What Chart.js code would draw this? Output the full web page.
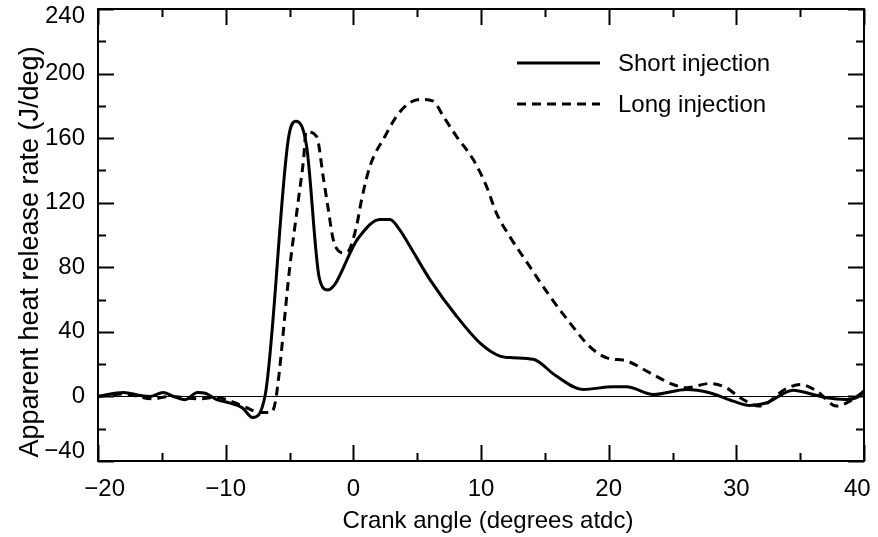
<!DOCTYPE html>
<html>
<head>
<meta charset="utf-8">
<script src="https://cdn.jsdelivr.net/npm/chart.js@4/dist/chart.umd.min.js"></script>
<style>
  html, body { margin: 0; padding: 0; background: #fff; }
  #wrap { width: 878px; height: 537px; position: relative; }
</style>
</head>
<body>
<div id="wrap"><canvas id="chart"></canvas></div>
<script>
// crank angle (deg atdc) / apparent heat release rate (J/deg)
const shortAngle = [-20, -18.0, -16.7, -15.9, -14.9, -14.1, -13.2, -12.2, -11.6, -10.7, -9.7, -8.7, -7.9,
  -6.9, -5.1, -4.5, -3.66, -2.67, -2.01, 0.38, 2.08, 2.87, 3.65, 4.43, 6.0, 8.09, 9.91, 11.48, 12.5,
  14.1, 15.9, 18.0, 20.35, 21.4, 23.5, 26.1, 27.9, 29.75, 31.06, 32.4, 34.45, 36.0, 37.06, 38.6, 39.7, 40];
const shortRate = [0, 2.5, 0.6, 0, 2.5, 0, -2, 2.5, 2, -2, -4, -7, -13,
  1, 159, 170.5, 155, 73.5, 66, 98, 109.6, 109.6, 103, 93, 72.4, 49.7, 33.2, 25, 24,
  23, 12.6, 4.3, 6, 6, 1.2, 4.3, 2.3, -2.9, -5.6, -3.9, 3.9, 1.2, -0.8, -1.9, 0.6, 3.3];

const longAngle = [-20, -18.0, -15.7, -14.4, -12.0, -10.8, -9.4, -8.36, -7.3, -6.5, -6.1, -4.97, -4.3,
  -3.9, -3.7, -2.87, -2.36, -1.96, -1.57, -0.79, -0.4, 0.25, 0.65, 1.3, 2.47, 3.39, 4.43, 5.35, 6.26,
  7.04, 8.09, 9.39, 10.44, 11.2, 12.26, 13.8, 15.4, 16.96, 18.5, 19.8, 21.4, 23.2, 25.05, 26.1,
  27.9, 29.2, 30.3, 31.8, 33.9, 35.0, 36.3, 37.85, 38.9, 40];
const longRate = [0, 1.5, -1.5, 0, -1.5, -0.5, -3.5, -7, -10, -10, -3, 80.7, 122,
  146.7, 164, 161, 136, 115.8, 97, 89, 90, 105.5, 122, 142.6, 161, 173.6, 182, 184, 183,
  173.6, 161, 146.7, 130, 113.7, 99, 80.7, 62, 45.6, 31, 24, 22, 14.7, 7.4, 5.4,
  8, 5.4, -0.8, -6, 4.8, 7.4, 3.3, -6, -2.9, 3.3];

const seriesLabels = ['Short injection', 'Long injection'];
const xTitle = 'Crank angle (degrees atdc)';
const yTitle = 'Apparent heat release rate (J/deg)';

const X_MIN = -20, X_MAX = 40, X_STEP = 10;
const Y_MIN = -40, Y_MAX = 240, Y_STEP = 40;

const FONT = "'Liberation Sans', Arial, Helvetica, sans-serif";

function toPoints(xs, ys) {
  return xs.map((x, i) => ({ x: x, y: ys[i] }));
}

function minus(v) {
  return v < 0 ? '\u2212' + Math.abs(v) : String(v);
}

// frame, inward ticks on all four sides, axis titles and the legend
const framePlugin = {
  id: 'frame',
  afterDraw(chart) {
    const { ctx, chartArea: a, scales: { x, y } } = chart;
    ctx.save();
    ctx.strokeStyle = '#000';
    ctx.lineWidth = 2;
    ctx.strokeRect(a.left, a.top, a.right - a.left, a.bottom - a.top);

    ctx.beginPath();
    for (let v = Y_MIN; v <= Y_MAX; v += Y_STEP / 2) {
      const py = Math.round(y.getPixelForValue(v)) + 0.5;
      const len = v % Y_STEP === 0 ? 16 : 8;
      ctx.moveTo(a.left, py); ctx.lineTo(a.left + len, py);
      ctx.moveTo(a.right, py); ctx.lineTo(a.right - len, py);
    }
    for (let v = X_MIN; v <= X_MAX; v += X_STEP / 2) {
      const px = Math.round(x.getPixelForValue(v)) + 0.5;
      const len = v % X_STEP === 0 ? 16 : 8;
      ctx.moveTo(px, a.bottom); ctx.lineTo(px, a.bottom - len);
      ctx.moveTo(px, a.top); ctx.lineTo(px, a.top + len);
    }
    ctx.stroke();

    // axis titles
    ctx.fillStyle = '#000';
    ctx.textAlign = 'center';
    ctx.textBaseline = 'middle';
    ctx.font = '24px ' + FONT;
    ctx.fillText(xTitle, 488, 521);
    ctx.save();
    ctx.translate(31, 252);
    ctx.rotate(-Math.PI / 2);
    ctx.font = '27px ' + FONT;
    ctx.fillText(yTitle, 0, 0);
    ctx.restore();

    // legend
    ctx.font = '24px ' + FONT;
    ctx.textAlign = 'left';
    const rows = [63, 104];
    chart.data.datasets.forEach((ds, i) => {
      ctx.lineWidth = ds.borderWidth;
      ctx.setLineDash(ds.borderDash || []);
      ctx.beginPath();
      ctx.moveTo(517, rows[i]);
      ctx.lineTo(600, rows[i]);
      ctx.stroke();
      ctx.setLineDash([]);
      ctx.fillText(ds.label, 618, rows[i] + 1);
    });
    ctx.restore();
  }
};

new Chart(document.getElementById('chart'), {
  type: 'line',
  data: {
    datasets: [
      {
        label: seriesLabels[0],
        data: toPoints(shortAngle, shortRate),
        borderColor: '#000',
        borderWidth: 3,
        pointRadius: 0,
        cubicInterpolationMode: 'monotone',
      },
      {
        label: seriesLabels[1],
        data: toPoints(longAngle, longRate),
        borderColor: '#000',
        borderWidth: 3,
        borderDash: [9, 6],
        pointRadius: 0,
        cubicInterpolationMode: 'monotone',
      },
    ],
  },
  options: {
    responsive: true,
    maintainAspectRatio: false,
    animation: false,
    layout: { padding: { top: 9, right: 14, left: 0, bottom: 0 } },
    plugins: {
      legend: { display: false },
      tooltip: { enabled: false },
    },
    scales: {
      x: {
        type: 'linear',
        min: X_MIN,
        max: X_MAX,
        border: { display: false },
        grid: { display: false, drawTicks: false },
        ticks: {
          stepSize: X_STEP,
          padding: 14,
          color: '#000',
          font: { family: FONT, size: 24 },
          // end labels sit a little inside the frame, as in the figure
          callback: (v) => (v === X_MIN ? '  ' + minus(v) : v === X_MAX ? minus(v) + '  ' : minus(v)),
        },
        afterFit(scale) {
          scale.height = 76;
          scale.paddingLeft = 0;
          scale.paddingRight = 0;
        },
      },
      y: {
        min: Y_MIN,
        max: Y_MAX,
        border: { display: false },
        grid: {
          drawTicks: false,
          color: (c) => (c.tick && c.tick.value === 0 ? '#000' : 'rgba(0,0,0,0)'),
          lineWidth: 1,
        },
        ticks: {
          stepSize: Y_STEP,
          padding: 13,
          color: '#000',
          font: (c) => {
            const v = c.tick && c.tick.value;
            if (v === Y_MAX) return { family: FONT, size: 24, lineHeight: '15px' };
            if (v === Y_MIN) return { family: FONT, size: 24, lineHeight: '20px' };
            return { family: FONT, size: 24 };
          },
          callback: (v) => (v === Y_MAX ? ['', minus(v)] : v === Y_MIN ? [minus(v), ''] : minus(v)),
        },
        afterFit(scale) {
          scale.width = 98;
          scale.paddingTop = 0;
          scale.paddingBottom = 0;
        },
      },
    },
  },
  plugins: [framePlugin],
});
</script>
</body>
</html>
